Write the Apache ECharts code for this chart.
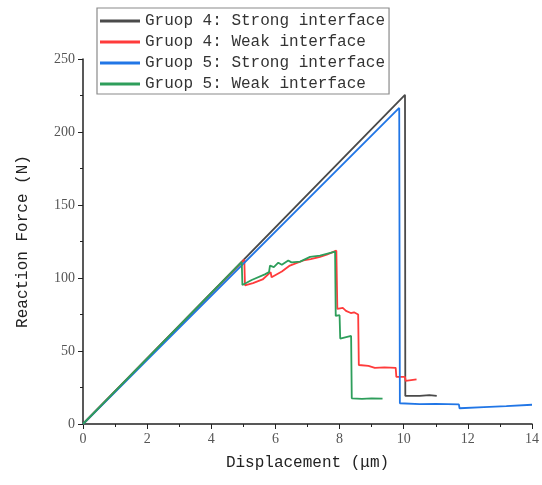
<!DOCTYPE html>
<html>
<head>
<meta charset="utf-8">
<script src="https://cdn.jsdelivr.net/npm/echarts@6/dist/echarts.min.js"></script>
<style>
html,body{margin:0;padding:0;background:#fff;}
#main{width:542px;height:485px;}
</style>
</head>
<body>
<div id="main"></div>
<script>
// series names
var names = ['Gruop 4: Strong interface', 'Gruop 4: Weak interface', 'Gruop 5: Strong interface', 'Gruop 5: Weak interface'];

// [displacement, force]
var g4Strong = [[0,0],[10.04,225.5],[10.05,19.2],[10.5,19.2],[10.8,19.8],[11.03,19.2]];
var g4Weak = [[0,0],[5.03,112.5],[5.05,95],[5.3,96.5],[5.6,99],[5.85,104],[5.88,100.5],[6.2,104.5],[6.45,108.5],[6.87,112],[7.1,113],[7.39,114.5],[7.6,116],[7.9,118.7],[7.93,78.8],[8.1,79.5],[8.2,77.5],[8.35,76],[8.45,76.5],[8.58,75],[8.6,40.4],[8.9,39.8],[9.1,38.5],[9.4,38.8],[9.75,38.5],[9.77,32.3],[10.04,32.3],[10.06,29.5],[10.4,30.5]];
var g5Strong = [[0,0],[9.86,216.5],[9.88,14.2],[10.5,13.6],[11.0,13.8],[11.72,13.5],[11.74,10.8],[12.5,11.5],[13.2,12.2],[14.0,13.2]];
var g5Weak = [[0,0],[4.95,111],[4.97,95.2],[5.26,98.6],[5.67,102.5],[5.8,104],[5.83,108.5],[5.95,107.5],[6.09,110.5],[6.2,109],[6.4,112],[6.5,110.7],[6.77,111.2],[7.08,114.5],[7.39,115.3],[7.86,118],[7.88,74],[8.0,74.5],[8.02,58.5],[8.36,60.3],[8.38,17.6],[8.7,17.2],[9.0,17.6],[9.34,17.4]];

var colors = ['#4a4a4a', '#ff3b3b', '#2176e6', '#2e9e5b'];
var seriesData = [g4Strong, g4Weak, g5Strong, g5Weak];

var myChart = echarts.init(document.getElementById('main'));
var font = 'Liberation Mono';
var tickFont = 'Liberation Serif';

var series = [];
for (var i = 0; i < names.length; i++) {
    series.push({
        name: names[i],
        type: 'line',
        data: seriesData[i],
        symbol: 'none',
        animation: false,
        lineStyle: {color: colors[i], width: 1.8},
        itemStyle: {color: colors[i]}
    });
}

var option = {
    backgroundColor: '#fff',
    animation: false,
    legend: {
        data: names,
        orient: 'vertical',
        left: 97,
        top: 8,
        padding: [4, 4, 1, 3],
        itemGap: 3,
        itemWidth: 40,
        itemHeight: 3,
        icon: 'rect',
        borderColor: '#8a8a8a',
        borderWidth: 1.2,
        textStyle: {fontFamily: font, fontSize: 16, color: '#333', lineHeight: 18}
    },
    grid: {left: 83, right: 10, top: 59, bottom: 61},
    xAxis: {
        type: 'value',
        min: 0,
        max: 14,
        interval: 2,
        name: 'Displacement (μm)',
        nameLocation: 'middle',
        nameGap: 31,
        nameTextStyle: {fontFamily: font, fontSize: 16, color: '#222'},
        axisLine: {lineStyle: {color: '#222', width: 1.5}},
        axisTick: {inside: false, length: 5, lineStyle: {color: '#222'}},
        minorTick: {show: true, splitNumber: 2, length: 3, lineStyle: {color: '#222'}},
        axisLabel: {fontFamily: tickFont, fontSize: 14, color: '#555', margin: 8},
        splitLine: {show: false}
    },
    yAxis: {
        type: 'value',
        min: 0,
        max: 250,
        interval: 50,
        name: 'Reaction Force (N)',
        nameLocation: 'middle',
        nameGap: 52,
        nameTextStyle: {fontFamily: font, fontSize: 16, color: '#222'},
        axisLine: {show: true, lineStyle: {color: '#222', width: 1.5}},
        axisTick: {show: true, inside: false, length: 5, lineStyle: {color: '#222'}},
        minorTick: {show: true, splitNumber: 2, length: 3, lineStyle: {color: '#222'}},
        axisLabel: {fontFamily: tickFont, fontSize: 14, color: '#555', margin: 8},
        splitLine: {show: false}
    },
    series: series
};
myChart.setOption(option);
</script>
</body>
</html>
